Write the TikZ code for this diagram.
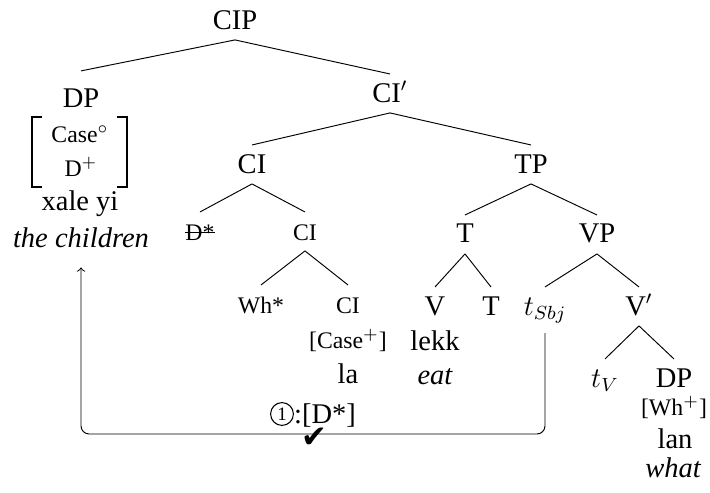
\documentclass[tikz,border=0pt]{standalone}
\usepackage{fontspec}
\setmainfont{Liberation Serif}
\newfontfamily\symfont{DejaVu Sans}
\usetikzlibrary{calc,positioning}

\begin{document}
\begin{tikzpicture}[x=0.421pt,y=-0.421pt,
  lab/.style={anchor=base,inner sep=0pt,outer sep=0pt,text height=11.8pt,text depth=4.6pt,font=\fontsize{12}{14}\selectfont},
  sm/.style={lab,font=\fontsize{10}{12}\selectfont}]
\useasboundingbox (0,0) rectangle (710,493);

% categories
\node[lab] (CIP) at (235,29) {CIP};
\node[lab] (DP) at (81,107) {DP};
\node[lab] (CIbar) at (390,102) {CI$'$};
\node[lab] (CI) at (252,173) {CI};
\node[lab] (TP) at (531,173) {TP};
\node[sm] (Dst) at (200,240) {D*};
\draw ([yshift=3.1pt]Dst.base west) -- ([yshift=3.1pt]Dst.base east);
\node[sm] (CIb) at (305,240) {CI};
\node[lab] (T) at (465,243) {T};
\node[lab] (VP) at (597,243) {VP};
\node[sm] (Wh) at (261,313) {Wh*};
\node[sm] (CIc) at (348,313) {CI};
\node[lab] (V) at (435,315) {V};
\node[lab] (Tb) at (491,315) {T};
\node[lab] (tS) at (545,315) {$t_{Sbj}$};
\node[lab] (Vbar) at (639,315) {V$'$};
\node[lab] (tV) at (605,387) {$t_V$};
\node[lab] (DPb) at (674,387) {DP};

% features and words
\node[sm] (cs) at (80,142) {Case$^\circ$};
\node[sm] (dplus) at (81,176) {D$^+$};
\draw[line width=0.6pt] (42,117) -- (32,117) -- (32,187) -- (42,187);
\draw[line width=0.6pt] (117,117) -- (127,117) -- (127,187) -- (117,187);
\node[lab] (xy) at (80,210) {xale yi};
\node[lab] (gl) at (81,247) {\itshape the children};
\node[sm] (csp) at (348,348) {[Case$^+$]};
\node[lab] (la) at (348,383) {la};
\node[lab] (lekk) at (435,350) {lekk};
\node[lab] (eat) at (435,384) {\itshape eat};
\node[sm] (whp) at (674,415) {[Wh$^+$]};
\node[lab] (lan) at (675,448) {lan};
\node[lab] (what) at (673,477) {\itshape what};

% branches
\draw (CIP.south) -- ([yshift=3.4pt]DP.north);
\draw (CIP.south) -- (CIbar.north);
\draw (CIbar.south) -- (CI.north);
\draw (CIbar.south) -- (TP.north);
\draw (CI.south) -- (Dst.north);
\draw (CI.south) -- (CIb.north);
\draw (CIb.south) -- (Wh.north);
\draw (CIb.south) -- (CIc.north);
\draw (TP.south) -- (T.north);
\draw (TP.south) -- (VP.north);
\draw (T.south) -- (V.north);
\draw (T.south) -- (Tb.north);
\draw (VP.south) -- (tS.north);
\draw (VP.south) -- (Vbar.north);
\draw (Vbar.south) -- (tV.north);
\draw (Vbar.south) -- (DPb.north);

% agreement path
\coordinate (bot) at (312,434);
\draw[->,rounded corners=3.4pt] ([yshift=-3pt]tS.south) |- (bot) -| ([yshift=-4pt]gl.south);
\node[circle,draw,line width=0.45pt,inner sep=0.4pt,minimum size=9.6pt,font=\fontsize{8}{8}\selectfont] (one) at (282,414) {1};
\node[lab] (agr) at (325,423) {:[D*]};
\node[font=\symfont\fontsize{13}{13}\selectfont,inner sep=0pt] (ok) at (314,438) {✔};
\end{tikzpicture}
\end{document}
